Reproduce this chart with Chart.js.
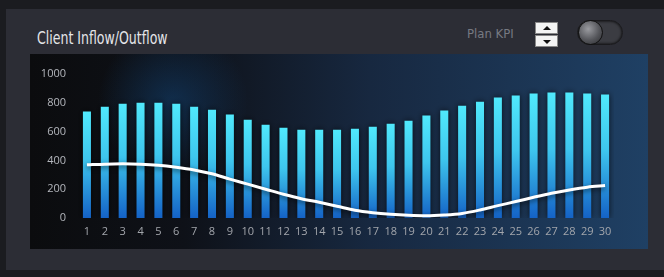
<!DOCTYPE html>
<html>
<head>
<meta charset="utf-8">
<script src="https://cdn.jsdelivr.net/npm/chart.js@4"></script>
<style>
  html, body { margin: 0; padding: 0; }
  body { width: 664px; height: 277px; background: #1b1c20; position: relative; overflow: hidden; }
  #panel { position: absolute; left: 6px; top: 9px; width: 658px; height: 261px; background: #2c2d35; }
  #title { position: absolute; left: 37px; top: 28px; font-family: "Liberation Sans Narrow", "DejaVu Sans Condensed", sans-serif; font-size: 17px; color: #e4e5e8; transform: scaleX(0.82); transform-origin: left top; white-space: nowrap; }
  #kpi { position: absolute; left: 467px; top: 26px; font-family: "Liberation Sans Narrow", "DejaVu Sans Condensed", sans-serif; font-size: 13px; color: #777a82; }
  .spin { position: absolute; left: 535px; width: 23px; height: 12px; background: #f4f4f4; border: 1px solid #888; box-sizing: border-box; }
  .spin::after { content: ""; position: absolute; left: 7px; border-left: 4px solid transparent; border-right: 4px solid transparent; }
  #up { top: 22px; }
  #up::after { top: 3px; border-bottom: 4px solid #111; }
  #down { top: 35px; }
  #down::after { top: 4px; border-top: 4px solid #111; }
  #toggle { position: absolute; left: 577px; top: 20px; width: 46px; height: 25px; border-radius: 13px; background: #3b3c42; box-shadow: inset 0 0 3px #000; border: 1px solid #1a1a1d; box-sizing: border-box; }
  #knob { position: absolute; left: 0px; top: -1px; width: 25px; height: 25px; border-radius: 50%; background: radial-gradient(circle at 40% 35%, #9a9ba0, #55565b 55%, #2a2b2f); border: 1px solid #111; box-sizing: border-box; }
  #box { position: absolute; left: 30px; top: 54px; width: 618px; height: 195px; }
</style>
</head>
<body>
<div id="panel"></div>
<div id="title">Client Inflow/Outflow</div>
<div id="kpi">Plan KPI</div>
<div class="spin" id="up"></div>
<div class="spin" id="down"></div>
<div id="toggle"><div id="knob"></div></div>
<div id="box"><canvas id="flowChart" width="618" height="195"></canvas></div>
<script>
// days of the month
const days = ['1','2','3','4','5','6','7','8','9','10','11','12','13','14','15',
              '16','17','18','19','20','21','22','23','24','25','26','27','28','29','30'];

// inflow (bars)
const inflow = [740, 773, 794, 801, 801, 794, 773, 752, 718, 683, 648, 627, 613, 613, 613,
                620, 634, 655, 676, 711, 746, 780, 808, 836, 850, 864, 871, 871, 864, 857];

// outflow (white line)
const outflow = [369, 374, 376, 374, 367, 353, 334, 307, 270, 235, 200, 165, 134, 109, 82,
                 54, 37, 26, 19, 16, 21, 32, 56, 86, 114, 144, 172, 195, 214, 225];

const yTicks = [0, 200, 400, 600, 800, 1000];

// fond du graphique: dégradé horizontal + halo bleu
const bgPlugin = {
    id: 'bg',
    beforeDraw(chart) {
        const c = chart.ctx;
        const w = chart.width, h = chart.height;
        const g = c.createLinearGradient(0, 0, w, 0);
        g.addColorStop(0, '#0b0c0e');
        g.addColorStop(0.25, '#0e1118');
        g.addColorStop(0.55, '#172840');
        g.addColorStop(1, '#1f4064');
        c.save();
        c.fillStyle = g;
        c.fillRect(0, 0, w, h);
        const r = c.createRadialGradient(143, 48, 0, 143, 48, 75);
        r.addColorStop(0, 'rgba(20,80,140,0.45)');
        r.addColorStop(1, 'rgba(20,80,140,0)');
        c.fillStyle = r;
        c.fillRect(0, 0, w, h);
        c.restore();
    }
};

// ombre pour barres et ligne
const shadowPlugin = {
    id: 'shadow',
    beforeDatasetDraw(chart, args) {
        const c = chart.ctx;
        c.save();
        if (args.index === 0) {
            c.shadowColor = 'rgba(0,0,0,0.7)';
            c.shadowBlur = 6;
        } else {
            c.shadowColor = 'rgba(0,0,0,0.6)';
            c.shadowBlur = 5;
            c.shadowOffsetY = 2;
        }
    },
    afterDatasetDraw(chart) {
        chart.ctx.restore();
    }
};

function barGradient(context) {
    const chart = context.chart;
    if (!chart.chartArea || context.raw === undefined) return '#3fc8f0';
    const y = chart.scales.y;
    const top = y.getPixelForValue(context.raw);
    const bottom = y.getPixelForValue(0);
    const g = chart.ctx.createLinearGradient(0, top, 0, bottom);
    g.addColorStop(0, '#50e9fc');
    g.addColorStop(0.45, '#3ec6ee');
    g.addColorStop(1, '#1462c6');
    return g;
}

const ctx = document.getElementById('flowChart').getContext('2d');
new Chart(ctx, {
    data: {
        labels: days,
        datasets: [
            {
                type: 'bar',
                label: 'Inflow',
                data: inflow,
                backgroundColor: barGradient,
                borderWidth: 0,
                barPercentage: 0.9,
                categoryPercentage: 0.5,
                order: 2
            },
            {
                type: 'line',
                label: 'Outflow',
                data: outflow,
                borderColor: '#ffffff',
                borderWidth: 3,
                pointRadius: 0,
                cubicInterpolationMode: 'monotone',
                fill: false,
                order: 1
            }
        ]
    },
    options: {
        responsive: false,
        animation: false,
        layout: { padding: { left: 0, right: 34, top: 20, bottom: 0 } },
        plugins: {
            legend: { display: false },
            tooltip: { enabled: false }
        },
        scales: {
            x: {
                grid: { display: false, drawTicks: false },
                border: { display: false },
                ticks: {
                    color: '#a3a6ac',
                    font: { family: 'Open Sans', size: 11 },
                    maxRotation: 0,
                    autoSkip: false,
                    padding: 7
                },
                afterFit: s => { s.height = 31; }
            },
            y: {
                min: 0,
                max: 1000,
                afterBuildTicks: s => { s.ticks = yTicks.map(v => ({ value: v })); },
                grid: { display: false, drawTicks: false },
                border: { display: false },
                ticks: {
                    color: '#b4b7bd',
                    font: { family: 'Open Sans', size: 11 },
                    padding: 12,
                    callback: v => String(v)
                },
                afterFit: s => { s.width = 48; }
            }
        }
    },
    plugins: [bgPlugin, shadowPlugin]
});
</script>
</body>
</html>
